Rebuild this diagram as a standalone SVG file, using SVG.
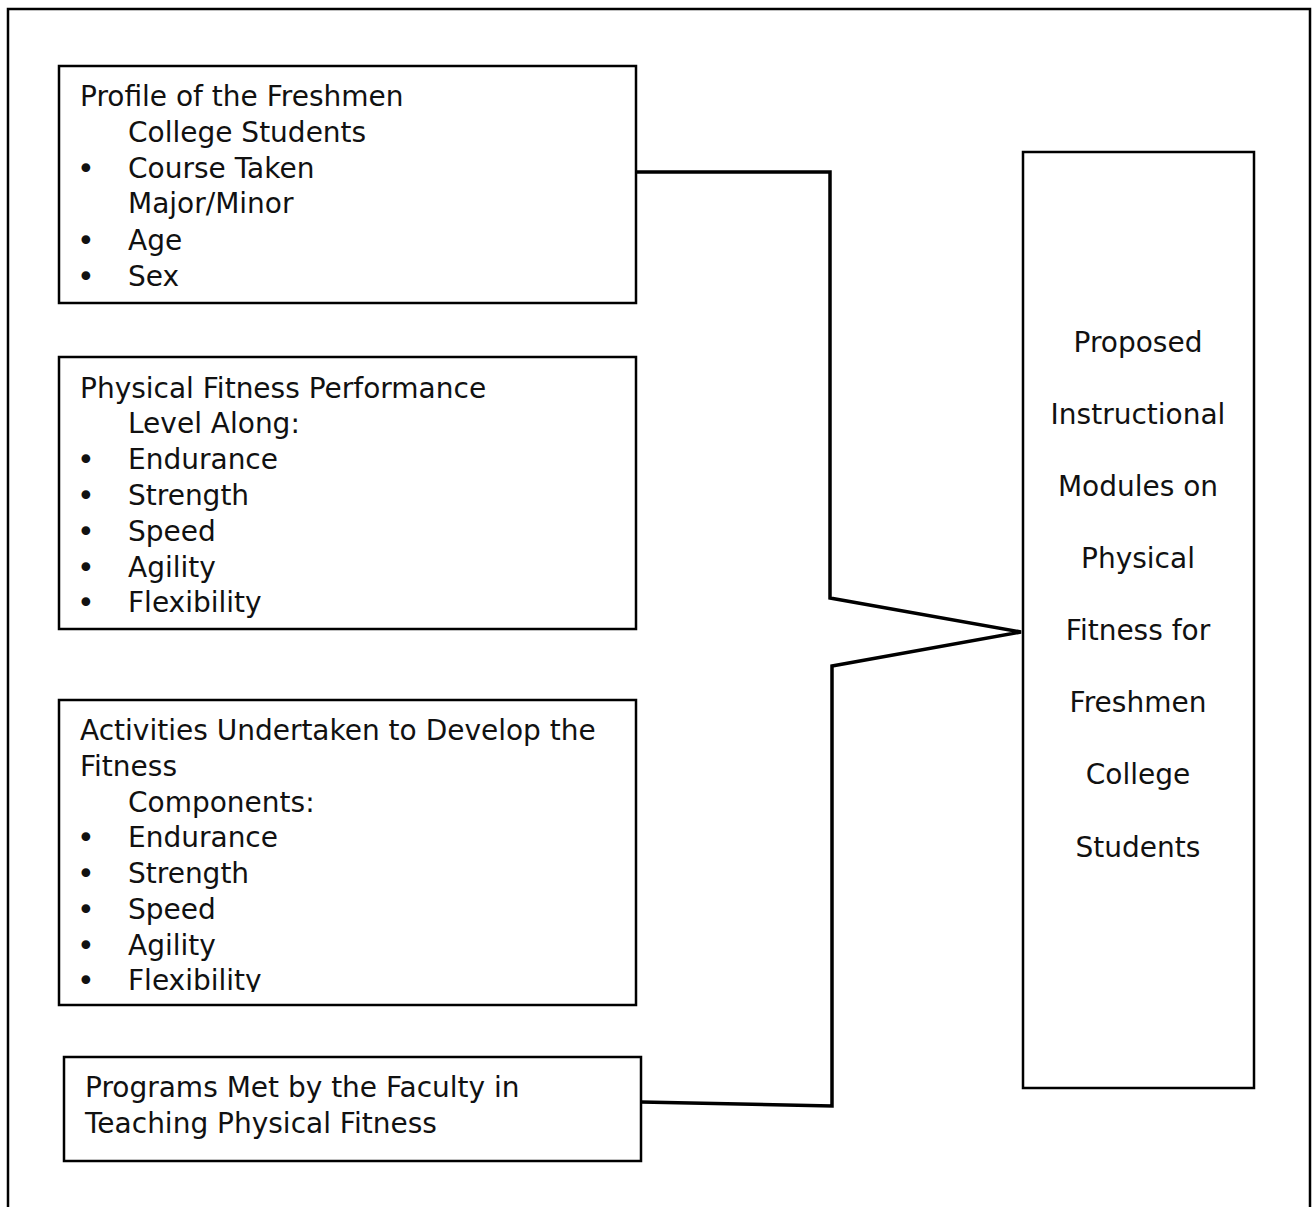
<svg xmlns="http://www.w3.org/2000/svg" width="1312" height="1207" viewBox="0 0 1312 1207">
  <defs>
    <style>
      .box { fill: #ffffff; stroke: #000000; stroke-width: 2.5; }
      .frame { fill: none; stroke: #000000; stroke-width: 2.5; }
      .conn { fill: none; stroke: #000000; stroke-width: 3.5; stroke-linejoin: miter; }
      .t { font-family: "DejaVu Sans", "Liberation Sans", sans-serif; font-size: 28px; fill: #111111; }
      .b { font-family: "DejaVu Sans", "Liberation Sans", sans-serif; font-size: 30px; fill: #111111; }
      .c { text-anchor: middle; }
    </style>
    <clipPath id="clip3">
      <rect x="59" y="700" width="577" height="292"/>
    </clipPath>
  </defs>
  <rect width="1312" height="1207" fill="#ffffff"/>
  <path class="frame" d="M8,1210 V9 H1310 V1210"/>

  <g id="connectors">
    <path class="conn" d="M636,172 H830 V598 L1021,632 L832,666 V1106 L641,1102"/>
  </g>

  <g id="node-profile">
    <rect class="box" x="59" y="66" width="577" height="237"/>
    <text class="t" x="80" y="106">Profile of the Freshmen</text>
    <text class="t" x="128" y="142">College Students</text>
    <text class="b" x="77" y="179">•</text>
    <text class="t" x="128" y="178">Course Taken</text>
    <text class="t" x="128" y="213">Major/Minor</text>
    <text class="b" x="77" y="251">•</text>
    <text class="t" x="128" y="250">Age</text>
    <text class="b" x="77" y="287">•</text>
    <text class="t" x="128" y="286">Sex</text>
  </g>

  <g id="node-performance">
    <rect class="box" x="59" y="357" width="577" height="272"/>
    <text class="t" x="80" y="398">Physical Fitness Performance</text>
    <text class="t" x="128" y="433">Level Along:</text>
    <text class="b" x="77" y="470">•</text>
    <text class="t" x="128" y="469">Endurance</text>
    <text class="b" x="77" y="506">•</text>
    <text class="t" x="128" y="505">Strength</text>
    <text class="b" x="77" y="542">•</text>
    <text class="t" x="128" y="541">Speed</text>
    <text class="b" x="77" y="578">•</text>
    <text class="t" x="128" y="577">Agility</text>
    <text class="b" x="77" y="613">•</text>
    <text class="t" x="128" y="612">Flexibility</text>
  </g>

  <g id="node-activities">
    <rect class="box" x="59" y="700" width="577" height="305"/>
    <g clip-path="url(#clip3)">
      <text class="t" x="80" y="740">Activities Undertaken to Develop the</text>
      <text class="t" x="80" y="776">Fitness</text>
      <text class="t" x="128" y="812">Components:</text>
      <text class="b" x="77" y="848">•</text>
      <text class="t" x="128" y="847">Endurance</text>
      <text class="b" x="77" y="884">•</text>
      <text class="t" x="128" y="883">Strength</text>
      <text class="b" x="77" y="920">•</text>
      <text class="t" x="128" y="919">Speed</text>
      <text class="b" x="77" y="956">•</text>
      <text class="t" x="128" y="955">Agility</text>
      <text class="b" x="77" y="991">•</text>
      <text class="t" x="128" y="990">Flexibility</text>
    </g>
  </g>

  <g id="node-programs">
    <rect class="box" x="64" y="1057" width="577" height="104"/>
    <text class="t" x="85" y="1097">Programs Met by the Faculty in</text>
    <text class="t" x="85" y="1133">Teaching Physical Fitness</text>
  </g>

  <g id="node-proposed">
    <rect class="box" x="1023" y="152" width="231" height="936"/>
    <text class="t c" x="1138" y="352">Proposed</text>
    <text class="t c" x="1138" y="424">Instructional</text>
    <text class="t c" x="1138" y="496">Modules on</text>
    <text class="t c" x="1138" y="568">Physical</text>
    <text class="t c" x="1138" y="640">Fitness for</text>
    <text class="t c" x="1138" y="712">Freshmen</text>
    <text class="t c" x="1138" y="784">College</text>
    <text class="t c" x="1138" y="857">Students</text>
  </g>
</svg>
